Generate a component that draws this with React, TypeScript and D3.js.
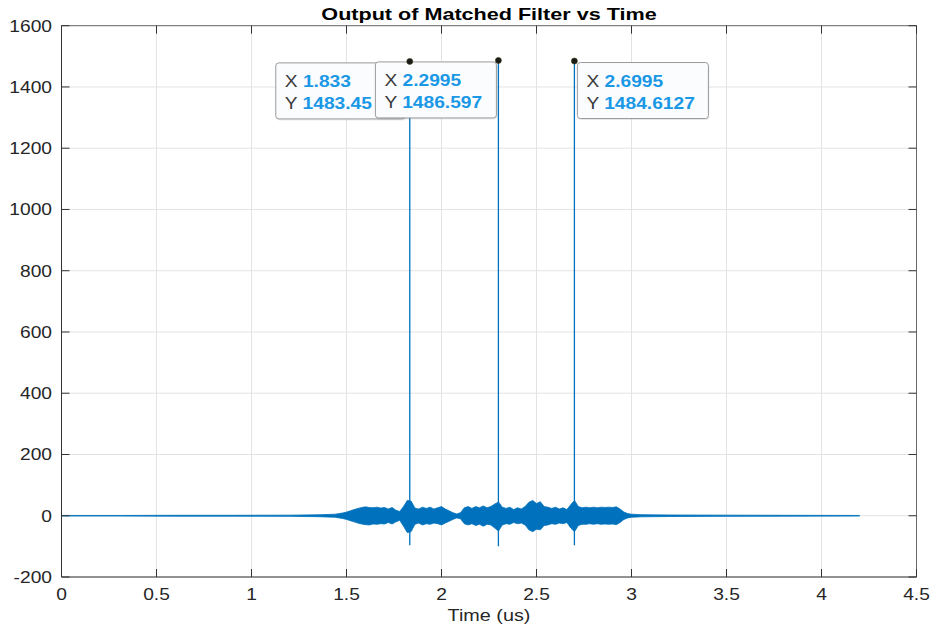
import React from 'react';
import * as d3 from 'd3';

// axis ticks
const xTicks = [0, 0.5, 1, 1.5, 2, 2.5, 3, 3.5, 4, 4.5];
const xTickLabels = ['0', '0.5', '1', '1.5', '2', '2.5', '3', '3.5', '4', '4.5'];
const yTicks = [-200, 0, 200, 400, 600, 800, 1000, 1200, 1400, 1600];
const yTickLabels = ['-200', '0', '200', '400', '600', '800', '1000', '1200', '1400', '1600'];

// envelope of the matched filter output
const envT = [0, 0.3, 0.6, 0.9, 1.2, 1.35, 1.44, 1.48, 1.5, 1.52, 1.54, 1.56, 1.58, 1.6, 1.62, 1.64, 1.66, 1.68, 1.7,
  1.72, 1.74, 1.76, 1.78, 1.8, 1.82, 1.84, 1.86, 1.88, 1.9, 1.92, 1.94, 1.96, 1.98, 2.0, 2.02, 2.04, 2.06, 2.08,
  2.1, 2.12, 2.14, 2.16, 2.18, 2.2, 2.22, 2.24, 2.26, 2.28, 2.3, 2.32, 2.34, 2.36, 2.38, 2.4, 2.42, 2.44, 2.46,
  2.48, 2.5, 2.52, 2.54, 2.56, 2.58, 2.6, 2.62, 2.64, 2.66, 2.68, 2.7, 2.72, 2.74, 2.76, 2.78, 2.8, 2.82, 2.84,
  2.86, 2.88, 2.9, 2.92, 2.94, 2.96, 2.98, 3.0, 3.05, 3.2, 3.5, 3.8, 4.2];
const envUpper = [1, 1, 1.5, 1.5, 2, 3, 5, 9, 12, 16, 20, 24, 27, 29, 27, 26, 28, 25, 27,
  22, 27, 18, 14, 30, 50, 48, 25, 22, 28, 24, 28, 22, 26, 30, 22, 16, 10, 6,
  10, 26, 30, 24, 30, 26, 32, 26, 30, 38, 45, 28, 24, 28, 20, 26, 22, 30, 44,
  50, 40, 46, 30, 28, 24, 28, 22, 26, 20, 36, 50, 30, 26, 28, 26, 28, 26, 28,
  27, 28, 27, 29, 22, 12, 7, 5, 3.5, 2.5, 2, 1.5, 1];
const envLower = [-1, -1, -1.5, -1.5, -2, -3, -5, -9, -12, -16, -20, -24, -27, -29, -30, -27, -28, -26, -27,
  -22, -27, -20, -15, -34, -55, -52, -28, -24, -30, -26, -28, -24, -26, -30, -24, -18, -12, -7,
  -10, -26, -30, -26, -32, -28, -34, -28, -30, -40, -50, -30, -26, -28, -22, -26, -24, -30, -46,
  -52, -44, -46, -32, -30, -26, -28, -24, -26, -22, -40, -52, -32, -28, -28, -26, -28, -26, -28,
  -27, -28, -27, -29, -22, -12, -7, -5, -3.5, -2.5, -2, -1.5, -1];

// the three compressed pulses
const peakT = [1.833, 2.2995, 2.6995];
const peakY = [1483.45, 1486.597, 1484.6127];
const peakMin = [-96, -100, -96];
const tipX = ['1.833', '2.2995', '2.6995'];
const tipY = ['1483.45', '1486.597', '1484.6127'];

const W = 933, H = 630;
const left = 61.5, right = 916.5, top = 25.7, bottom = 577;
const blue = '#0072BD';
const SX = 1.2;

// datatip boxes: offset from the marker and width
const tipBox = [
  { dx: -134, w: 129 },
  { dx: -123, w: 121 },
  { dx: 3, w: 131 },
];

function T({ x, y, anchor = 'start', size = 16, weight = 'normal', sx = SX, fill = '#262626', children }: any) {
  return (
    <text transform={`translate(${x},${y}) scale(${sx},1)`} textAnchor={anchor} fontSize={size}
      fontWeight={weight} fill={fill} fontFamily="'Liberation Sans', Arial, sans-serif">
      {children}
    </text>
  );
}

export default function App() {
  const x = d3.scaleLinear().domain([0, 4.5]).range([left, right]);
  const y = d3.scaleLinear().domain([-200, 1600]).range([bottom, top]);

  const band = d3.area<number>()
    .x((d, i) => x(envT[i]))
    .y0((d, i) => y(envLower[i]))
    .y1((d) => y(d));

  const order = [0, 1, 2];

  return (
    <div style={{ position: 'fixed', left: 0, top: 0 }}>
      <svg width={W} height={H} style={{ display: 'block', background: '#fff' }}>
        {/* grid */}
        {xTicks.map((t) => (
          <line key={'gx' + t} x1={x(t)} x2={x(t)} y1={top} y2={bottom} stroke="#e3e3e3" />
        ))}
        {yTicks.map((t) => (
          <line key={'gy' + t} x1={left} x2={right} y1={y(t)} y2={y(t)} stroke="#e3e3e3" />
        ))}

        {/* signal */}
        <path d={band(envUpper) || ''} fill={blue} stroke={blue} strokeWidth={0.8} />
        {peakT.map((t, i) => (
          <line key={'pk' + i} x1={x(t)} x2={x(t)} y1={y(peakMin[i])} y2={y(peakY[i])}
            stroke={blue} strokeWidth={1.3} />
        ))}

        {/* axes box and ticks */}
        <line x1={left} x2={right} y1={top} y2={top} stroke="#6b6b6b" />
        <line x1={right} x2={right} y1={top} y2={bottom} stroke="#6b6b6b" />
        <line x1={left} x2={right} y1={bottom} y2={bottom} stroke="#333" />
        <line x1={left} x2={left} y1={top} y2={bottom} stroke="#333" />
        {xTicks.map((t) => (
          <g key={'tx' + t}>
            <line x1={x(t)} x2={x(t)} y1={bottom} y2={bottom - 8} stroke="#333" />
            <line x1={x(t)} x2={x(t)} y1={top} y2={top + 8} stroke="#333" />
          </g>
        ))}
        {yTicks.map((t) => (
          <g key={'ty' + t}>
            <line x1={left} x2={left + 8} y1={y(t)} y2={y(t)} stroke="#333" />
            <line x1={right} x2={right - 8} y1={y(t)} y2={y(t)} stroke="#333" />
          </g>
        ))}
        {xTicks.map((t, i) => (
          <T key={'lx' + t} x={x(t)} y={599.5} anchor="middle">{xTickLabels[i]}</T>
        ))}
        {yTicks.map((t, i) => (
          <T key={'ly' + t} x={52} y={y(t) + 5.8} anchor="end">{yTickLabels[i]}</T>
        ))}

        <T x={489} y={19.5} anchor="middle" size={17} weight="bold" sx={1.27} fill="#000">
          Output of Matched Filter vs Time
        </T>
        <T x={489} y={621} anchor="middle" size={16.5}>Time (us)</T>

        {/* datatips */}
        {order.map((i) => {
          const mx = x(peakT[i]);
          const my = y(peakY[i]);
          const bx = mx + tipBox[i].dx;
          const by = my + 1.5;
          return (
            <g key={'tip' + i}>
              <rect x={bx + 1} y={by + 1.5} width={tipBox[i].w} height={56} rx={3} fill="#000" opacity={0.08} />
              <rect x={bx} y={by} width={tipBox[i].w} height={56} rx={3} fill="#fafcfe" stroke="#9a9a9a" strokeWidth={1} />
              <T x={bx + 9} y={by + 24.5} fill="#3a3a3a">
                X <tspan fill="#1a98e6" fontWeight="bold">{tipX[i]}</tspan>
              </T>
              <T x={bx + 9} y={by + 46.5} fill="#3a3a3a">
                Y <tspan fill="#1a98e6" fontWeight="bold">{tipY[i]}</tspan>
              </T>
            </g>
          );
        })}
        {peakT.map((t, i) => (
          <circle key={'mk' + i} cx={x(t)} cy={y(peakY[i])} r={3} fill="#1a1a1a" stroke="#3a3a10" strokeWidth={0.6} />
        ))}
      </svg>
    </div>
  );
}
